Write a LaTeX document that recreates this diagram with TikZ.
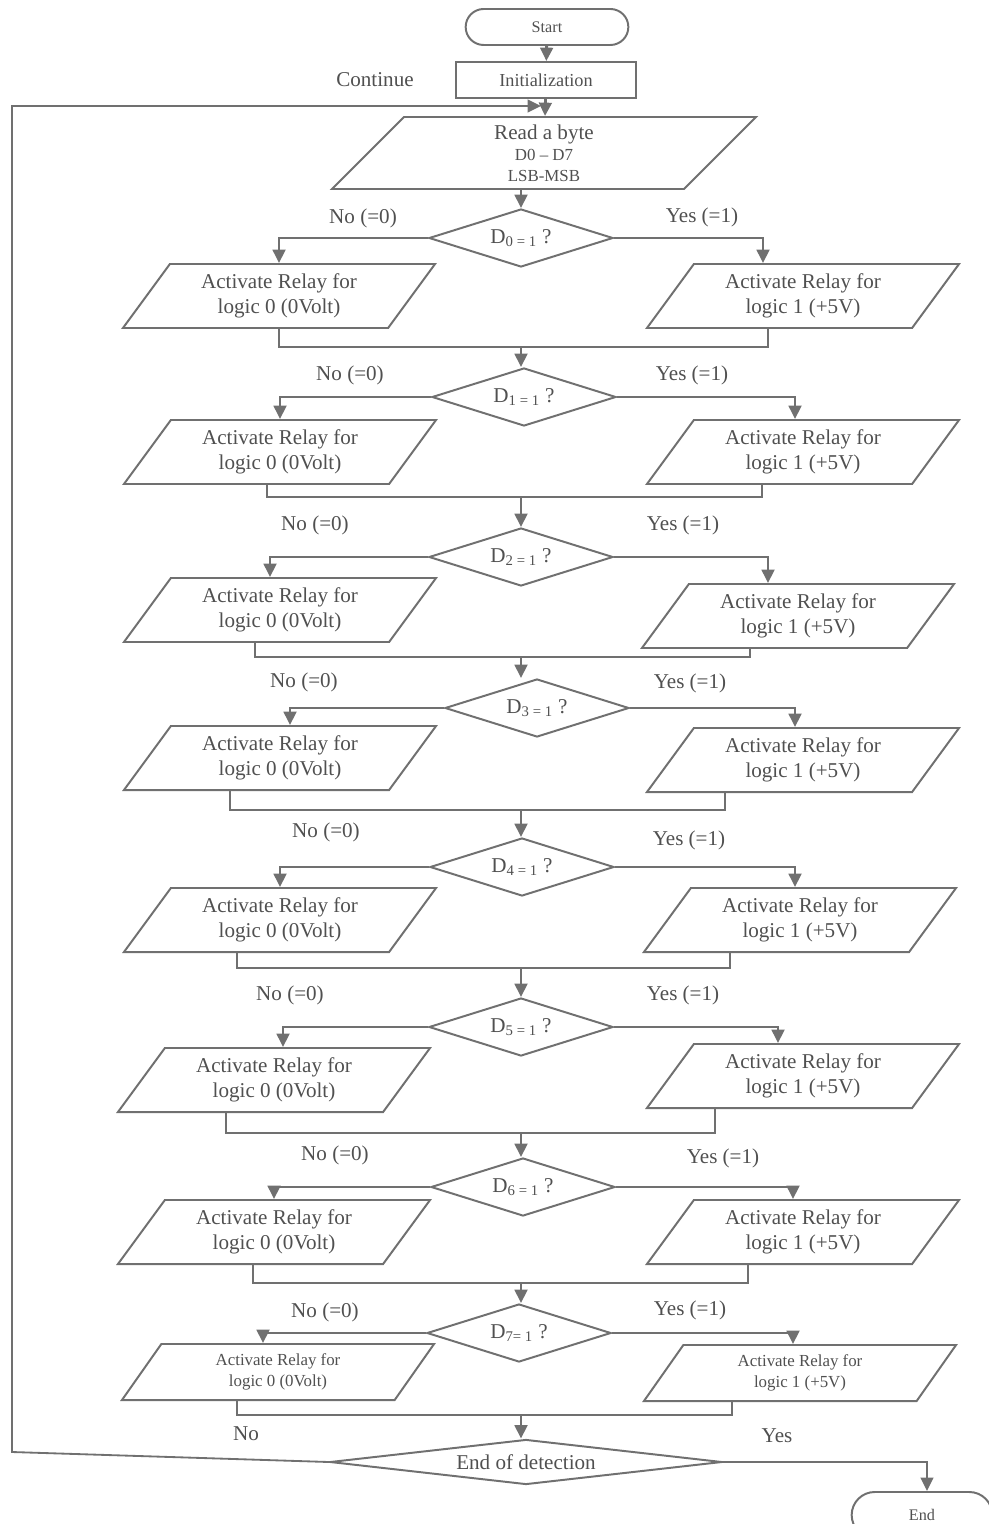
\documentclass[tikz,border=0pt]{standalone}
\usepackage{fontspec}
\setmainfont{Liberation Serif}
\usepackage{tikz}
\usepackage{xcolor}
\usetikzlibrary{shapes.geometric, shapes.misc, arrows.meta}
\definecolor{ink}{HTML}{707070}
\definecolor{txt}{HTML}{505050}

\begin{document}
\begin{tikzpicture}[x=0.025cm, y=-0.025cm, >={Triangle[length=9.5pt,width=9pt]},
  every node/.style={text=txt, font=\fontsize{15}{18}\selectfont},
  term/.style={rounded rectangle, draw=ink, line width=1.4pt, minimum width=4.3cm,
    minimum height=0.9cm, font=\fontsize{11.5}{13}\selectfont},
  initbox/.style={rectangle, draw=ink, line width=1.4pt, minimum width=4.5cm,
    minimum height=0.9cm, font=\fontsize{13}{15}\selectfont},
  iobox/.style={trapezium, trapezium left angle=47, trapezium right angle=133,
    trapezium stretches body, draw=ink, line width=1.4pt, minimum width=7.8cm,
    minimum height=1.6cm, inner sep=2pt, align=center},
  test/.style={diamond, draw=ink, line width=1.4pt, shape aspect=3.2,
    minimum width=4.6cm, minimum height=1.45cm, inner sep=0pt},
  flow/.style={draw=ink, line width=2pt, ->},
  mergeline/.style={draw=ink, line width=1pt}]
  \useasboundingbox (0,0) rectangle (988,1524);

  % Start, init, read
  \node[term] (start) at (547,27) {Start};
  \node[initbox] (init) at (546,80) {Initialization};
  \node (cont) at (375,80) {Continue};
  \node[iobox, trapezium left angle=41, trapezium right angle=139, minimum width=10.6cm,
    minimum height=1.8cm] (rb) at (544,153)
    {Read a byte\\[-3pt]{\fontsize{12}{13}\selectfont D0 -- D7}\\[-3pt]{\fontsize{12}{13}\selectfont LSB-MSB}};
  \draw[flow] (start) -- (init);
  \draw[flow] (init) -- (rb);

  % Bit D0
  \node[test] (d0) at (521,238) {D\textsubscript{0 = 1} ?};
  \node (no0) at (363,218) {No (=0)};
  \node (yes0) at (702,217) {Yes (=1)};
  \node[iobox] (l0) at (279,296) {Activate Relay for\\logic 0 (0Volt)};
  \node[iobox] (r0) at (803,296) {Activate Relay for\\logic 1 (+5V)};
  \coordinate (m0) at (521,347);
  \draw[flow] (rb.south -| d0.north) -- (d0.north);
  \draw[flow] (d0.west) -| (l0.north);
  \draw[flow] (d0.east) -| ([xshift=-1cm]r0.north);
  \draw[mergeline] (l0.south) |- (m0) -| ([xshift=-0.875cm]r0.south);

  % Bit D1
  \node[test] (d1) at (524,397) {D\textsubscript{1 = 1} ?};
  \node (no1) at (350,375) {No (=0)};
  \node (yes1) at (692,375) {Yes (=1)};
  \node[iobox] (l1) at (280,452) {Activate Relay for\\logic 0 (0Volt)};
  \node[iobox] (r1) at (803,452) {Activate Relay for\\logic 1 (+5V)};
  \coordinate (m1) at (521,497);
  \draw[flow] (m0) -- (m0 |- d1.north);
  \draw[flow] (d1.west) -| (l1.north);
  \draw[flow] (d1.east) -| ([xshift=-0.2cm]r1.north);
  \draw[mergeline] ([xshift=-0.325cm]l1.south) |- (m1) -| ([xshift=-1.025cm]r1.south);

  % Bit D2
  \node[test] (d2) at (521,557) {D\textsubscript{2 = 1} ?};
  \node (no2) at (315,525) {No (=0)};
  \node (yes2) at (683,525) {Yes (=1)};
  \node[iobox] (l2) at (280,610) {Activate Relay for\\logic 0 (0Volt)};
  \node[iobox] (r2) at (798,616) {Activate Relay for\\logic 1 (+5V)};
  \coordinate (m2) at (521,657);
  \draw[flow] (m1) -- (m1 |- d2.north);
  \draw[flow] (d2.west) -| ([xshift=-0.25cm]l2.north);
  \draw[flow] (d2.east) -| ([xshift=-0.75cm]r2.north);
  \draw[mergeline] ([xshift=-0.625cm]l2.south) |- (m2) -| ([xshift=-1.2cm]r2.south);

  % Bit D3
  \node[test] (d3) at (537,708) {D\textsubscript{3 = 1} ?};
  \node (no3) at (304,682) {No (=0)};
  \node (yes3) at (690,683) {Yes (=1)};
  \node[iobox] (l3) at (280,758) {Activate Relay for\\logic 0 (0Volt)};
  \node[iobox] (r3) at (803,760) {Activate Relay for\\logic 1 (+5V)};
  \coordinate (m3) at (521,810);
  \draw[flow] (m2) -- (m2 |- d3.north);
  \draw[flow] (d3.west) -| ([xshift=0.25cm]l3.north);
  \draw[flow] (d3.east) -| ([xshift=-0.2cm]r3.north);
  \draw[mergeline] ([xshift=-1.25cm]l3.south) |- (m3) -| ([xshift=-1.95cm]r3.south);

  % Bit D4
  \node[test] (d4) at (522,867) {D\textsubscript{4 = 1} ?};
  \node (no4) at (326,832) {No (=0)};
  \node (yes4) at (689,840) {Yes (=1)};
  \node[iobox] (l4) at (280,920) {Activate Relay for\\logic 0 (0Volt)};
  \node[iobox] (r4) at (800,920) {Activate Relay for\\logic 1 (+5V)};
  \coordinate (m4) at (521,968);
  \draw[flow] (m3) -- (m3 |- d4.north);
  \draw[flow] (d4.west) -| (l4.north);
  \draw[flow] (d4.east) -| ([xshift=-0.125cm]r4.north);
  \draw[mergeline] ([xshift=-1.075cm]l4.south) |- (m4) -| ([xshift=-1.75cm]r4.south);

  % Bit D5
  \node[test] (d5) at (521,1027) {D\textsubscript{5 = 1} ?};
  \node (no5) at (290,995) {No (=0)};
  \node (yes5) at (683,995) {Yes (=1)};
  \node[iobox] (l5) at (274,1080) {Activate Relay for\\logic 0 (0Volt)};
  \node[iobox] (r5) at (803,1076) {Activate Relay for\\logic 1 (+5V)};
  \coordinate (m5) at (521,1133);
  \draw[flow] (m4) -- (m4 |- d5.north);
  \draw[flow] (d5.west) -| ([xshift=0.225cm]l5.north);
  \draw[flow] (d5.east) -| ([xshift=-0.625cm]r5.north);
  \draw[mergeline] ([xshift=-1.2cm]l5.south) |- (m5) -| ([xshift=-2.2cm]r5.south);

  % Bit D6
  \node[test] (d6) at (523,1187) {D\textsubscript{6 = 1} ?};
  \node (no6) at (335,1155) {No (=0)};
  \node (yes6) at (723,1158) {Yes (=1)};
  \node[iobox] (l6) at (274,1232) {Activate Relay for\\logic 0 (0Volt)};
  \node[iobox] (r6) at (803,1232) {Activate Relay for\\logic 1 (+5V)};
  \coordinate (m6) at (521,1283);
  \draw[flow] (m5) -- (m5 |- d6.north);
  \draw[flow] (d6.west) -| (l6.north);
  \draw[flow] (d6.east) -| ([xshift=-0.25cm]r6.north);
  \draw[mergeline] ([xshift=-0.525cm]l6.south) |- (m6) -| ([xshift=-1.375cm]r6.south);

  % Bit D7
  \node[test] (d7) at (519,1333) {D\textsubscript{7= 1} ?};
  \node (no7) at (325,1312) {No (=0)};
  \node (yes7) at (690,1310) {Yes (=1)};
  \node[iobox, minimum height=1.4cm, font=\fontsize{12}{15}\selectfont] (l7) at (278,1372)
    {Activate Relay for\\logic 0 (0Volt)};
  \node[iobox, minimum height=1.4cm, font=\fontsize{12}{15}\selectfont] (r7) at (800,1373)
    {Activate Relay for\\logic 1 (+5V)};
  \coordinate (m7) at (521,1415);
  \draw[flow] (m6) -- (m6 |- d7.north);
  \draw[flow] (d7.west) -| ([xshift=-0.375cm]l7.north);
  \draw[flow] (d7.east) -| ([xshift=-0.175cm]r7.north);
  \draw[mergeline] ([xshift=-1.025cm]l7.south) |- (m7) -| ([xshift=-1.7cm]r7.south);

  % End test, loop back
  \node[test, shape aspect=8.7, minimum width=9.8cm, minimum height=1.125cm] (endq) at (526,1462)
    {End of detection};
  \node (noend) at (246,1434) {No};
  \node (yesend) at (777,1436) {Yes};
  \node[term, minimum width=3.75cm, minimum height=1.15cm] (stop) at (922,1515) {End};
  \coordinate (back) at (12,1452);
  \coordinate (loopin) at (541,106);
  \draw[flow] (m7) -- (m7 |- endq.north);
  \draw[flow, line width=1.3pt] (endq.west) -- (back) |- (loopin);
  \draw[flow, line width=1.2pt] (endq.east) -| ([xshift=0.125cm]stop.north);
\end{tikzpicture}
\end{document}
